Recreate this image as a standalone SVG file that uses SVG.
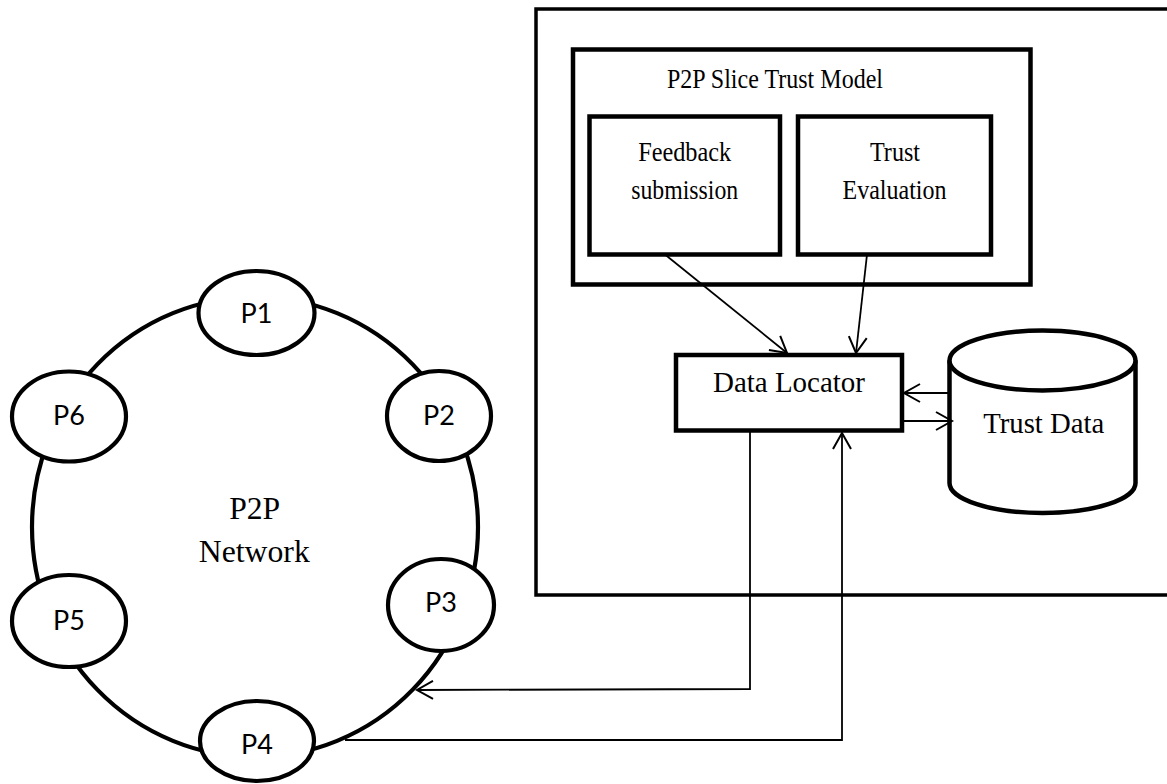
<svg xmlns="http://www.w3.org/2000/svg" width="1167" height="784" viewBox="0 0 1167 784">
  <style>
    .box { fill: #fff; stroke: #000; stroke-width: 4.5; }
    .frame { fill: none; stroke: #000; stroke-width: 3.5; }
    .peer { fill: #fff; stroke: #000; stroke-width: 4.2; }
    .ring { fill: none; stroke: #000; stroke-width: 4.2; }
    .link { fill: none; stroke: #000; stroke-width: 1.8; }
    .serif { font-family: "Liberation Serif", "Times New Roman", serif; fill: #000; text-anchor: middle; }
    .sans { font-family: Lato, "Noto Sans", sans-serif; font-size: 27px; fill: #000; text-anchor: middle; }
  </style>
  <defs>
    <marker id="open-arrow" viewBox="-19 -12 22 24" refX="0" refY="0" markerWidth="22" markerHeight="24" markerUnits="userSpaceOnUse" orient="auto">
      <path d="M-16,-9 L0,0 L-16,9" fill="none" stroke="#000" stroke-width="2"/>
    </marker>
  </defs>
  <rect width="1167" height="784" fill="#fff"/>

  <!-- right-hand system frame (runs off the right edge) -->
  <g id="system-frame">
    <rect class="frame" x="536" y="9" width="650" height="586"/>
  </g>

  <g id="trust-model">
    <rect class="box" x="573" y="49.5" width="457.5" height="235"/>
    <text class="serif" x="775" y="88" font-size="28" textLength="216" lengthAdjust="spacingAndGlyphs">P2P Slice Trust Model</text>
  </g>

  <g id="feedback-submission">
    <rect class="box" x="589.5" y="116.5" width="190.5" height="138"/>
    <text class="serif" x="684.7" y="161" font-size="27" textLength="93" lengthAdjust="spacingAndGlyphs">Feedback</text>
    <text class="serif" x="684.7" y="199.3" font-size="27" textLength="107" lengthAdjust="spacingAndGlyphs">submission</text>
  </g>

  <g id="trust-evaluation">
    <rect class="box" x="798" y="116.5" width="193" height="138"/>
    <text class="serif" x="895" y="161" font-size="27" textLength="50" lengthAdjust="spacingAndGlyphs">Trust</text>
    <text class="serif" x="894.5" y="199.3" font-size="27" textLength="104" lengthAdjust="spacingAndGlyphs">Evaluation</text>
  </g>

  <g id="data-locator">
    <rect class="box" x="676" y="355" width="226" height="75.5"/>
    <text class="serif" x="789" y="392" font-size="30" textLength="152" lengthAdjust="spacingAndGlyphs">Data Locator</text>
  </g>

  <g id="trust-data">
    <path class="box" d="M949.5,360.5 L949.5,483 A93,30 0 0 0 1135.5,483 L1135.5,360.5"/>
    <ellipse class="box" cx="1042.5" cy="360.5" rx="93" ry="30"/>
    <text class="serif" x="1043.7" y="433" font-size="28.5" textLength="121" lengthAdjust="spacingAndGlyphs">Trust Data</text>
  </g>

  <!-- peer ring -->
  <g id="p2p-network">
    <ellipse class="ring" cx="255" cy="527" rx="223" ry="230"/>
    <text class="serif" x="254.7" y="519" font-size="31" textLength="51" lengthAdjust="spacingAndGlyphs">P2P</text>
    <text class="serif" x="254.3" y="562" font-size="31" textLength="111" lengthAdjust="spacingAndGlyphs">Network</text>
  </g>

  <g id="connectors">
    <line class="link" x1="665" y1="254.5" x2="787" y2="353" marker-end="url(#open-arrow)"/>
    <line class="link" x1="867" y1="254.5" x2="856" y2="353" marker-end="url(#open-arrow)"/>
    <line class="link" x1="949.5" y1="393" x2="904" y2="393" marker-end="url(#open-arrow)"/>
    <line class="link" x1="902" y1="421" x2="952" y2="421" marker-end="url(#open-arrow)"/>
    <polyline class="link" points="750,430.5 750,689 417,690" marker-end="url(#open-arrow)"/>
    <polyline class="link" points="345,740 842,740 842,433" marker-end="url(#open-arrow)"/>
  </g>

  <g id="peer-p1">
    <ellipse class="peer" cx="256.5" cy="313" rx="58" ry="42"/>
    <text class="sans" x="256.5" y="323">P1</text>
  </g>
  <g id="peer-p2">
    <ellipse class="peer" cx="439" cy="416" rx="52" ry="45"/>
    <text class="sans" x="439" y="425">P2</text>
  </g>
  <g id="peer-p3">
    <ellipse class="peer" cx="441" cy="605" rx="53" ry="46"/>
    <text class="sans" x="441" y="612">P3</text>
  </g>
  <g id="peer-p4">
    <ellipse class="peer" cx="257" cy="741" rx="57" ry="40"/>
    <text class="sans" x="257" y="754">P4</text>
  </g>
  <g id="peer-p5">
    <ellipse class="peer" cx="69" cy="621" rx="57" ry="46"/>
    <text class="sans" x="69" y="630">P5</text>
  </g>
  <g id="peer-p6">
    <ellipse class="peer" cx="69" cy="416.5" rx="57" ry="45"/>
    <text class="sans" x="69" y="425">P6</text>
  </g>
</svg>
